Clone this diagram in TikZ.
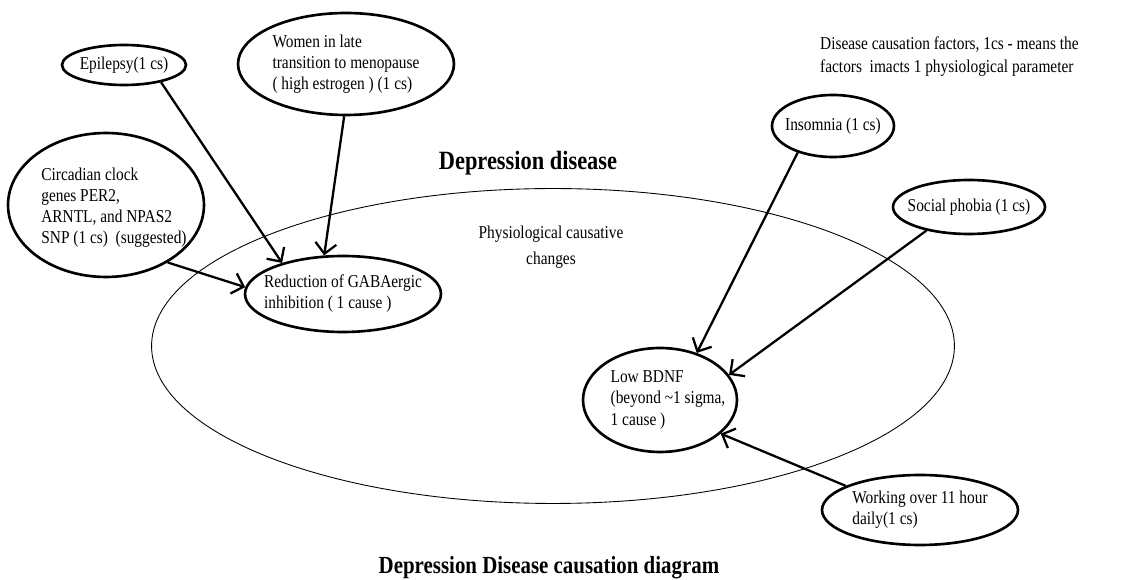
\documentclass[tikz,border=0pt]{standalone}
\usepackage{fontspec}
\setmainfont{Liberation Serif}[FakeStretch=0.85]
\usetikzlibrary{shapes.geometric,arrows.meta}
\begin{document}
\begin{tikzpicture}[x=0.02cm,y=-0.02cm,
  factor/.style={draw,ellipse,line width=1.5pt,inner sep=0pt},
  txt/.style={align=left,font=\fontsize{10.3}{12}\selectfont},
  link/.style={line width=1.3pt,-{Straight Barb[length=6pt,width=12pt]}}]
\useasboundingbox (0,0) rectangle (1127,580);
% physiological region
\draw[line width=0.5pt] (553,346) ellipse [x radius=8.03cm,y radius=3.15cm];
\node[font=\bfseries\fontsize{15}{15}\selectfont] (dis) at (528,163) {Depression disease};
\node[align=center,font=\fontsize{10.3}{15}\selectfont] (phys) at (551,247) {Physiological causative\\changes};
\node[txt,anchor=west,font=\fontsize{10.3}{13}\selectfont] (note) at (814,57) {Disease causation factors, 1cs - means the\\factors\ \ imacts 1 physiological parameter};
\node[font=\bfseries\fontsize{14}{14}\selectfont] (title) at (549,568) {Depression Disease causation diagram};
% causes
\node[factor,minimum width=2.48cm,minimum height=0.8cm,label={[txt]center:Epilepsy(1 cs)}] (epi) at (124,65) {};
\node[factor,minimum width=4.32cm,minimum height=2.04cm,label={[txt]center:Women in late\\transition to menopause\\( high estrogen ) (1 cs)}] (wom) at (346,64) {};
\node[factor,minimum width=3.92cm,minimum height=2.88cm,label={[txt,xshift=0.16cm,yshift=-0.06cm]center:Circadian clock\\genes PER2,\\ARNTL, and NPAS2\\SNP (1 cs)\ \ (suggested)}] (circ) at (106,205) {};
\node[factor,minimum width=2.44cm,minimum height=1.24cm,label={[txt]center:Insomnia (1 cs)}] (ins) at (833,126) {};
\node[factor,minimum width=3.04cm,minimum height=1.08cm,label={[txt]center:Social phobia (1 cs)}] (soc) at (969,207) {};
\node[factor,minimum width=3.92cm,minimum height=1.4cm,label={[txt]center:Working over 11 hour\\daily(1 cs)}] (work) at (920,510) {};
% changes
\node[factor,minimum width=3.92cm,minimum height=1.52cm,label={[txt]center:Reduction of GABAergic\\inhibition ( 1 cause )}] (red) at (343,294) {};
\node[factor,minimum width=3.08cm,minimum height=2.08cm,label={[txt,xshift=0.16cm]center:Low BDNF\\(beyond \textasciitilde1 sigma,\\1 cause )}] (bdnf) at (660,400) {};
\draw[link] (epi.-25) -- (red.153);
\draw[link] (wom.-92) -- (red.116);
\draw[link] (circ.-43) -- (red.176);
\draw[link] (ins.-143) -- (bdnf.52);
\draw[link] (soc.209) -- (bdnf.20);
\draw[link] (work.162) -- (bdnf.-29);
\end{tikzpicture}
\end{document}
